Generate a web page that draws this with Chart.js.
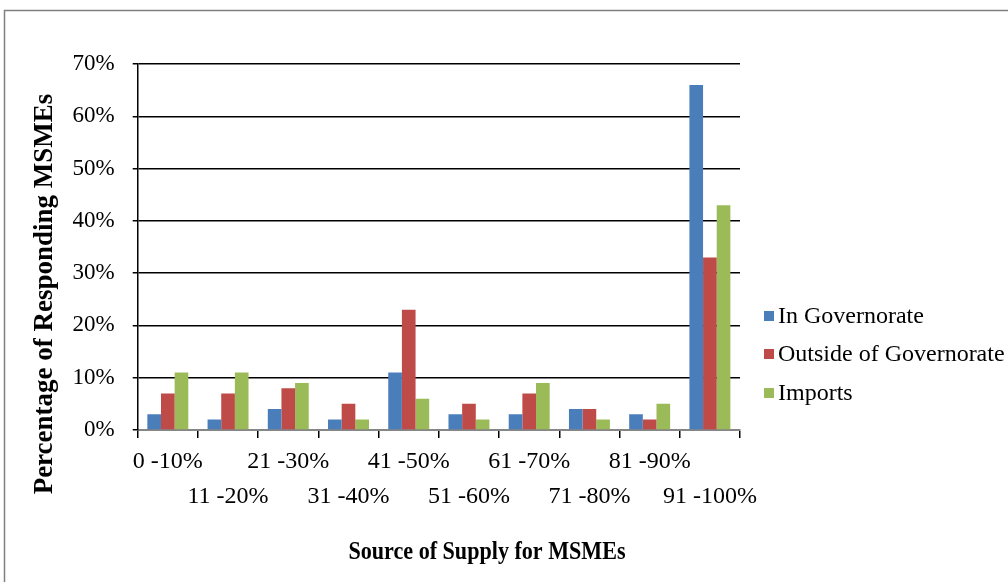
<!DOCTYPE html>
<html><head><meta charset="utf-8">
<script src="https://cdn.jsdelivr.net/npm/chart.js@4/dist/chart.umd.min.js"></script>
<style>html,body{margin:0;padding:0;background:#fff;} canvas{display:block;}</style>
</head><body>
<canvas id="c" width="1008" height="582"></canvas>
<script>
const categories = ['0 -10%','11 -20%','21 -30%','31 -40%','41 -50%','51 -60%','61 -70%','71 -80%','81 -90%','91 -100%'];
const inGovernorate = [3,2,4,2,11,3,3,4,3,66];
const outsideGovernorate = [7,7,8,5,23,5,7,4,2,33];
const imports = [11,11,9,2,6,2,9,2,5,43];
const seriesNames = ['In Governorate','Outside of Governorate','Imports'];
const seriesColors = ['#4A7EBB','#BE4B48','#9BBB59'];
const xTitle = 'Source of Supply for MSMEs';
const yTitle = 'Percentage of Responding MSMEs';
const yAxisMax = 70;
const yAxisStep = 10;

const FONT = "'Times New Roman', 'Liberation Serif', serif";

const framePlugin = {
  id: 'frame',
  beforeDraw(chart) {
    const ctx = chart.ctx;
    ctx.save();
    ctx.fillStyle = '#fff';
    ctx.fillRect(0, 0, chart.width, chart.height);
    ctx.strokeStyle = '#7f7f7f';
    ctx.lineWidth = 1.5;
    ctx.beginPath();
    ctx.moveTo(4.5, chart.height);
    ctx.lineTo(4.5, 10.5);
    ctx.lineTo(chart.width, 10.5);
    ctx.stroke();
    ctx.restore();
  }
};

const legendPlugin = {
  id: 'customLegend',
  afterDraw(chart) {
    const ctx = chart.ctx;
    const x0 = chart.chartArea.right + 24;
    const ys = [316, 354, 393];
    ctx.save();
    ctx.font = '24px ' + FONT;
    ctx.textBaseline = 'middle';
    ctx.textAlign = 'left';
    chart.data.datasets.forEach((ds, i) => {
      ctx.fillStyle = ds.backgroundColor;
      ctx.fillRect(x0, ys[i] - 5, 10, 10);
      ctx.fillStyle = '#000';
      ctx.fillText(ds.label, x0 + 14, ys[i] + 1);
    });
    ctx.restore();
  }
};

const titlesPlugin = {
  id: 'axisTitles',
  afterDraw(chart) {
    const ctx = chart.ctx;
    ctx.save();
    ctx.fillStyle = '#000';
    ctx.textAlign = 'center';
    ctx.textBaseline = 'middle';
    ctx.save();
    ctx.translate(487, 552);
    ctx.scale(0.85, 1);
    ctx.font = 'bold 26px ' + FONT;
    ctx.fillText(xTitle, 0, 0);
    ctx.restore();
    ctx.translate(45, 294);
    ctx.rotate(-Math.PI / 2);
    ctx.font = 'bold 27px ' + FONT;
    ctx.fillText(yTitle, 0, 0);
    ctx.restore();
  }
};

new Chart(document.getElementById('c'), {
  type: 'bar',
  data: {
    labels: categories,
    datasets: [
      { label: seriesNames[0], data: inGovernorate, backgroundColor: seriesColors[0] },
      { label: seriesNames[1], data: outsideGovernorate, backgroundColor: seriesColors[1] },
      { label: seriesNames[2], data: imports, backgroundColor: seriesColors[2] }
    ]
  },
  options: {
    responsive: false,
    animation: false,
    devicePixelRatio: 1,
    layout: { padding: { left: 4, top: 64, right: 268, bottom: 0 } },
    datasets: { bar: { categoryPercentage: 0.68, barPercentage: 1.0 } },
    plugins: { legend: { display: false }, tooltip: { enabled: false } },
    scales: {
      x: {
        grid: { offset: true, drawOnChartArea: false, drawTicks: true, tickLength: 8, color: '#000', lineWidth: 1.5 },
        border: { color: '#868686', width: 2 },
        ticks: {
          autoSkip: false, maxRotation: 0, minRotation: 0, padding: 6, color: '#000',
          font: { family: FONT, size: 24, lineHeight: 1.46 },
          callback: (v, i) => i % 2 === 0 ? [categories[i]] : ['', categories[i]]
        },
        title: { display: false },
        afterFit: (s) => { s.height = 152; }
      },
      y: {
        min: 0, max: yAxisMax,
        ticks: {
          stepSize: yAxisStep, padding: 18, color: '#000',
          font: { family: FONT, size: 23 },
          callback: (v) => v + '%'
        },
        grid: { color: '#000', lineWidth: 1.5, tickLength: 5 },
        border: { color: '#000', width: 1.5 },
        title: { display: false },
        afterFit: (s) => { s.width = 133.7; }
      }
    }
  },
  plugins: [framePlugin, legendPlugin, titlesPlugin]
});
</script>
</body></html>
